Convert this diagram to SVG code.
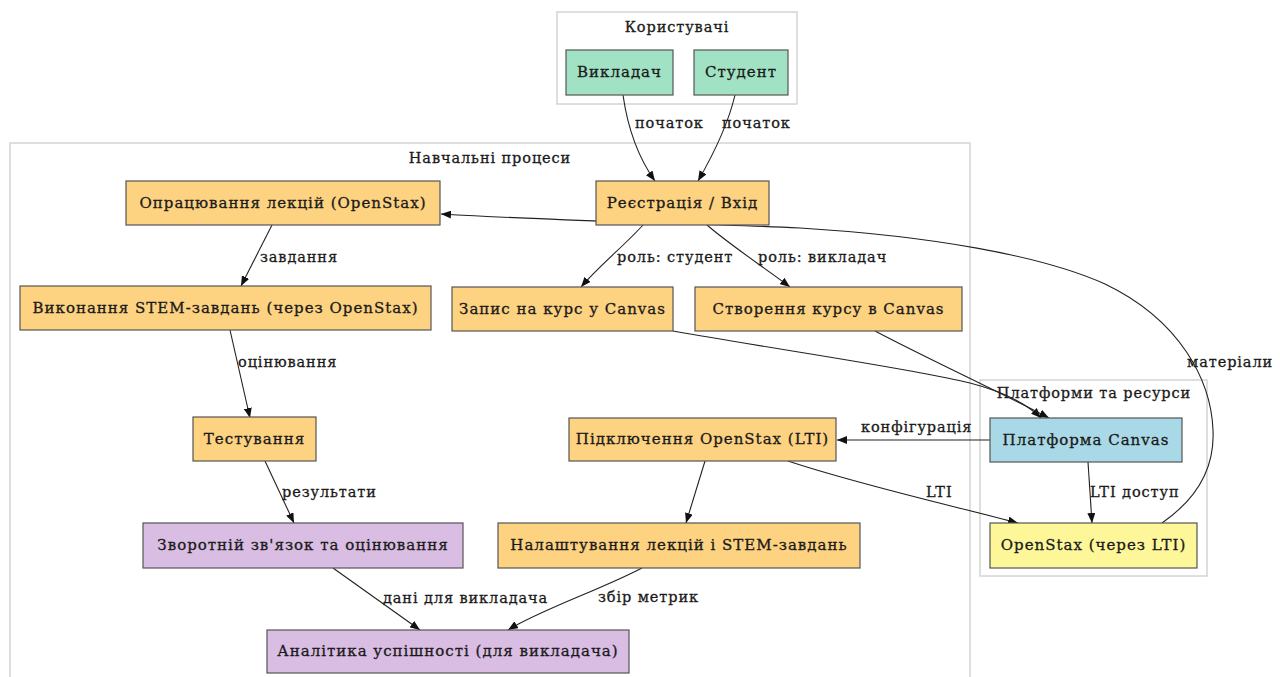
<svg xmlns="http://www.w3.org/2000/svg" width="1280" height="677" viewBox="0 0 1280 677">
<style>
text{font-family:"DejaVu Serif","Liberation Serif",serif;fill:#1a1a1a;stroke:#1a1a1a;stroke-width:0.3px;}
.n{font-size:15px;letter-spacing:1px;text-anchor:middle;}
.l{font-size:14.5px;letter-spacing:0.9px;}
.c{font-size:14.5px;letter-spacing:0.9px;text-anchor:middle;}
.cl{fill:none;stroke:#d4d4d4;stroke-width:1.5;}
.box{stroke:#555;stroke-width:1.2;}
.or{fill:#fdd280;}
.gr{fill:#a2e2c4;}
.pu{fill:#d9bde3;}
.bl{fill:#a9d8e6;}
.ye{fill:#fdf79a;}
.e{fill:none;stroke:#222;stroke-width:1.1;marker-end:url(#ah);}
</style>
<defs>
<marker id="ah" viewBox="0 0 10 8" refX="10" refY="4" markerWidth="10" markerHeight="8" markerUnits="userSpaceOnUse" orient="auto">
<path d="M0,0 L10,4 L0,8 Z" fill="#111"/>
</marker>
</defs>
<rect width="1280" height="677" fill="#fff"/>
<g id="clusters">
<rect class="cl" x="557" y="12" width="240" height="92"/>
<text class="c" x="677" y="32">Користувачі</text>
<rect class="cl" x="10" y="143" width="960" height="540"/>
<text class="c" x="490" y="163">Навчальні процеси</text>
<rect class="cl" x="980" y="380" width="227" height="196"/>
<text class="c" x="1094" y="398">Платформи та ресурси</text>
</g>
<g id="connectors">
<path class="e" d="M623,95 C628,130 640,160 655,181"/>
<text class="l" x="635" y="128">початок</text>
<path class="e" d="M735,95 C728,125 713,155 698,181"/>
<text class="l" x="722" y="128">початок</text>
<path class="e" d="M643,225 C625,245 600,265 581,287"/>
<text class="l" x="617" y="262">роль: студент</text>
<path class="e" d="M707,225 C730,245 765,268 790,287"/>
<text class="l" x="758" y="262">роль: викладач</text>
<path class="e" d="M272,225 L241,286"/>
<text class="l" x="260" y="262">завдання</text>
<path class="e" d="M230,330 L250,418"/>
<text class="l" x="238" y="367">оцінювання</text>
<path class="e" d="M265,461 L294,523"/>
<text class="l" x="282" y="497">результати</text>
<path class="e" d="M333,568 L420,630"/>
<text class="l" x="383" y="603">дані для викладача</text>
<path class="e" d="M642,568 C600,590 540,610 508,630"/>
<text class="l" x="598" y="602">збір метрик</text>
<path class="e" d="M705,461 L686,523"/>
<path class="e" d="M788,461 C860,485 950,505 1018,523"/>
<text class="l" x="926" y="497">LTI</text>
<path class="e" d="M990,440 L837,440"/>
<text class="l" x="861" y="432">конфігурація</text>
<path class="e" d="M1088,462 L1092,523"/>
<text class="l" x="1090" y="497">LTI доступ</text>
<path class="e" d="M673,331 C780,350 920,370 970,383 C1005,392 1028,405 1041,418"/>
<path class="e" d="M875,331 C930,360 1000,392 1049,418"/>
<path class="e" d="M1162,523 C1195,500 1215,470 1213,430 C1211,380 1180,320 1105,284 C1040,255 930,236 800,228 C700,223 600,223 441,214"/>
<text class="l" x="1187" y="367">матеріали</text>
</g>
<g id="n-vykladach"><rect class="box gr" x="566" y="50" width="107" height="45"/><text class="n" x="619.5" y="77">Викладач</text></g>
<g id="n-student"><rect class="box gr" x="694" y="50" width="94" height="45"/><text class="n" x="741" y="77">Студент</text></g>
<g id="n-reg"><rect class="box or" x="596" y="181" width="173" height="44"/><text class="n" x="682.5" y="208">Реєстрація / Вхід</text></g>
<g id="n-lect"><rect class="box or" x="126" y="181" width="314" height="44"/><text class="n" x="283" y="208">Опрацювання лекцій (OpenStax)</text></g>
<g id="n-stem"><rect class="box or" x="20" y="286" width="411" height="44"/><text class="n" x="225.5" y="313">Виконання STEM-завдань (через OpenStax)</text></g>
<g id="n-enroll"><rect class="box or" x="452" y="287" width="221" height="44"/><text class="n" x="562.5" y="314">Запис на курс у Canvas</text></g>
<g id="n-create"><rect class="box or" x="695" y="287" width="267" height="44"/><text class="n" x="828.5" y="314">Створення курсу в Canvas</text></g>
<g id="n-test"><rect class="box or" x="193" y="417" width="123" height="44"/><text class="n" x="254.5" y="444">Тестування</text></g>
<g id="n-connect"><rect class="box or" x="569" y="418" width="267" height="43"/><text class="n" x="702.5" y="444">Підключення OpenStax (LTI)</text></g>
<g id="n-canvas"><rect class="box bl" x="990" y="418" width="192" height="44"/><text class="n" x="1086" y="445">Платформа Canvas</text></g>
<g id="n-openstax"><rect class="box ye" x="990" y="523" width="207" height="45"/><text class="n" x="1093.5" y="550">OpenStax (через LTI)</text></g>
<g id="n-feedback"><rect class="box pu" x="143" y="523" width="320" height="45"/><text class="n" x="303" y="550">Зворотній зв'язок та оцінювання</text></g>
<g id="n-setup"><rect class="box or" x="498" y="523" width="362" height="45"/><text class="n" x="679" y="550">Налаштування лекцій і STEM-завдань</text></g>
<g id="n-analytics"><rect class="box pu" x="267" y="630" width="362" height="43"/><text class="n" x="448" y="656">Аналітика успішності (для викладача)</text></g>
</svg>
